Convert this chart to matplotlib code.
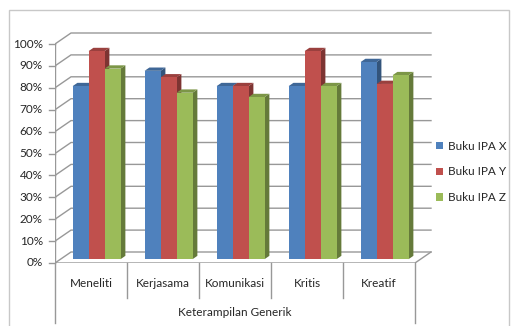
import matplotlib
matplotlib.use('Agg')
import matplotlib.pyplot as plt
from matplotlib.patches import Polygon, Rectangle, Patch
import numpy as np

plt.rcParams['font.family'] = ['Lato', 'DejaVu Sans']

# data
kategori = ['Meneliti', 'Kerjasama', 'Komunikasi', 'Kritis', 'Kreatif']
seri = ['Buku IPA X', 'Buku IPA Y', 'Buku IPA Z']
buku_x = [79, 86, 79, 79, 90]
buku_y = [95, 83, 79, 95, 80]
buku_z = [87, 76, 74, 79, 84]
yticks = list(range(0, 101, 10))
judul_x = 'Keterampilan Generik'

warna = ['#4f81bd', '#c0504d', '#9bbb59']


def gelap(c, f):
    r, g, b = matplotlib.colors.to_rgb(c)
    return (r * f, g * f, b * f)


W, H = 513, 326
fig = plt.figure(figsize=(W / 100, H / 100), dpi=100)

# sumbu: bidang depan kategori 0..5, persen 0..100
x0, x1 = 55, 437
ytop, ybot = 28, 263
ux, uy = 72.0, 2.19
ax = fig.add_axes([x0 / W, (H - ybot) / H, (x1 - x0) / W, (ybot - ytop) / H])
ax.set_xlim(0, (x1 - x0) / ux)
ax.set_ylim(0, (ybot - ytop) / uy)
ax.axis('off')

n = len(kategori)
dx, dz = 16 / ux, 11 / uy      # kedalaman dinding
garis = '#989898'
teks = '#262626'

# grid di dinding samping + belakang
for v in yticks:
    ax.plot([0, dx, n + dx], [v, v + dz, v + dz], color=garis, lw=1.0, zorder=1)
# lantai
ax.plot([0, n, n + dx], [0, 0, dz], color=garis, lw=1.0, zorder=1)
# sumbu nilai
ax.plot([0, 0], [0, 100], color=garis, lw=1.0, zorder=1)
for v in yticks:
    ax.plot([-0.08, 0], [v, v], color=garis, lw=1.0, clip_on=False)
    ax.text(-0.17, v, f'{v}%', ha='right', va='center', fontsize=8.5, color=teks)

# sumbu kategori
for i in range(n + 1):
    bawah = -27.5 if i in (0, n) else -16
    ax.plot([i, i], [0, bawah], color=garis, lw=1.0, clip_on=False)
for i, k in enumerate(kategori):
    ax.text(i + 0.5, -9.3, k, ha='center', va='center', fontsize=8.5, color=teks)
ax.text(n / 2, -22.6, judul_x, ha='center', va='center', fontsize=8.5, color=teks)

# batang 3D
lebar = 0.222
depan, tebal = 0.35, 0.3
nilai = [buku_x, buku_y, buku_z]
for i in range(n):
    for j in range(3):
        v = nilai[j][i]
        xl = i + 0.5 - 1.5 * lebar + j * lebar + depan * dx
        xr = xl + lebar
        b = depan * dz
        t = v + b
        ox, oz = tebal * dx, tebal * dz
        z = 3 + i * 3 + j
        ax.add_patch(Polygon([(xr, b), (xr, t), (xr + ox, t + oz), (xr + ox, b + oz)],
                             closed=True, fc=gelap(warna[j], 0.65), ec='none', zorder=z))
        ax.add_patch(Polygon([(xl, t), (xr, t), (xr + ox, t + oz), (xl + ox, t + oz)],
                             closed=True, fc=gelap(warna[j], 0.8), ec='none', zorder=z))
        ax.add_patch(Rectangle((xl, b), lebar, v, fc=warna[j], ec='none', zorder=z + 0.5))

# legenda
handles = [Patch(fc=c, ec='none') for c in warna]
fig.legend(handles, seri, loc='upper left', bbox_to_anchor=(431 / W, 1 - 136 / H),
           frameon=False, fontsize=8.5, handlelength=0.6, handleheight=0.6,
           handletextpad=0.4, labelspacing=1.25, borderaxespad=0, labelcolor=teks)

# bingkai luar
fig.add_artist(Rectangle((9 / W, -0.02), 500 / W, (H - 10) / H + 0.02,
                         transform=fig.transFigure, fill=False, ec='#c8c8c8', lw=1))

fig.savefig('out.png', dpi=100)
plt.close(fig)
